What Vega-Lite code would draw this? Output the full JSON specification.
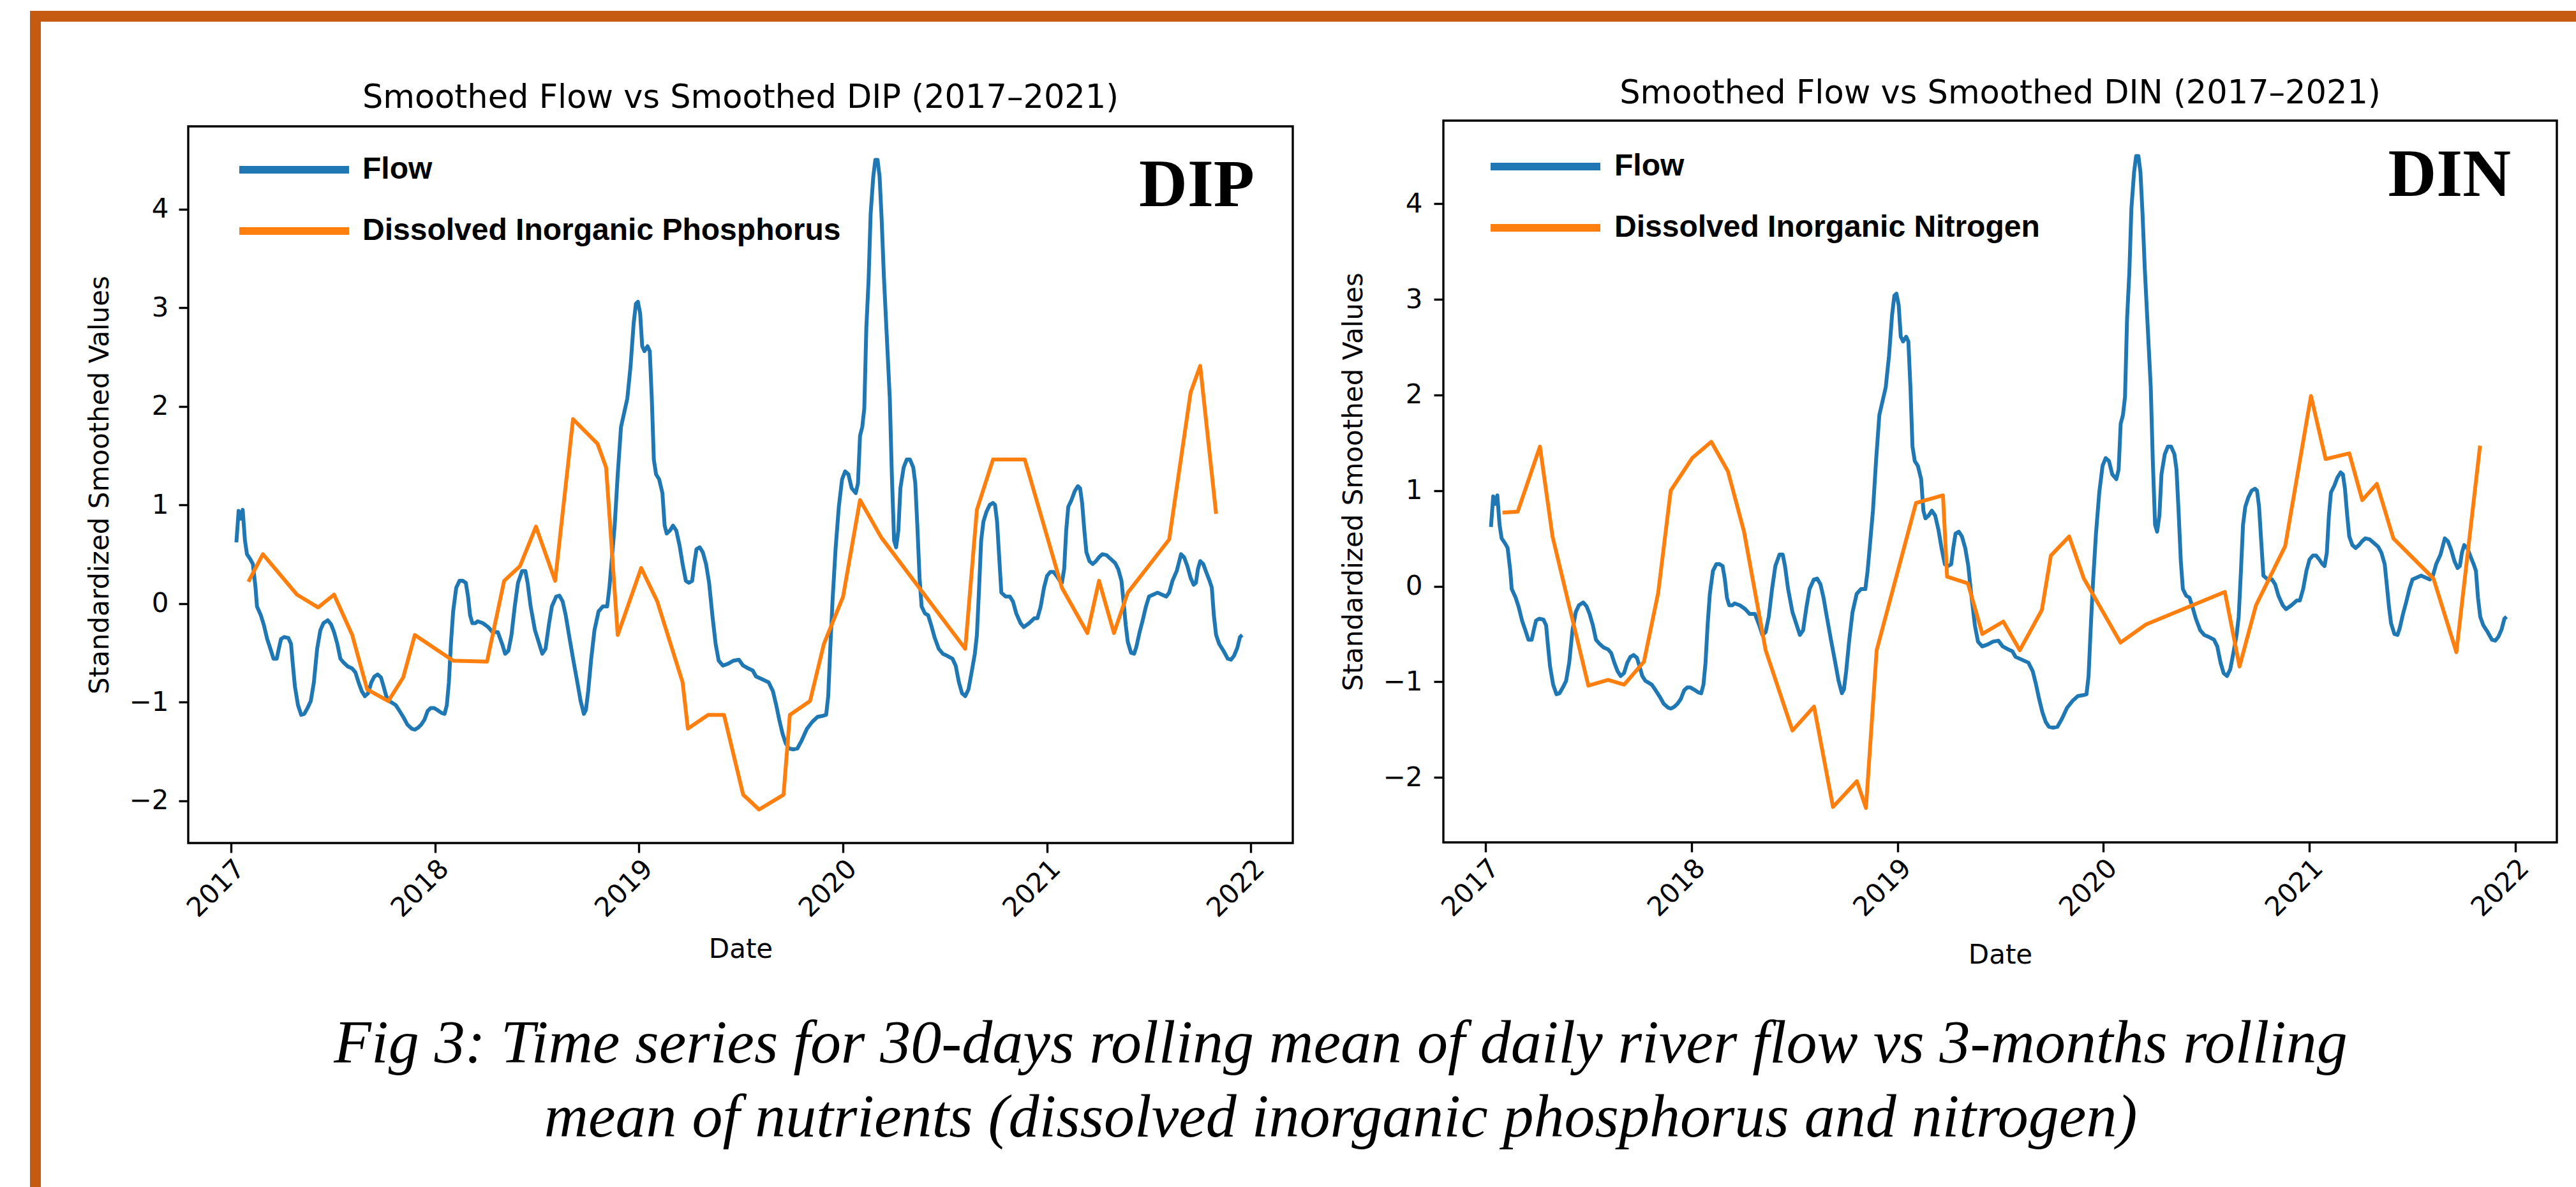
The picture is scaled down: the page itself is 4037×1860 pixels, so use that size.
{
"$schema": "https://vega.github.io/schema/vega-lite/v6.json",
"background": "white",
"padding": {"left": 47, "top": 17, "right": 0, "bottom": 0},
"autosize": {"type": "pad"},
"config": {
  "view": {"stroke": null},
  "font": "DejaVu Sans",
  "axis": {"labelFont": "DejaVu Sans", "labelFontSize": 42, "labelColor": "black", "titleFont": "DejaVu Sans", "titleFontSize": 42, "titleFontWeight": "normal", "titleColor": "black", "tickColor": "black", "tickWidth": 3.4, "tickSize": 15, "grid": false, "domain": false},
  "legend": {"orient": "none", "symbolType": "stroke", "symbolSize": 29584, "symbolStrokeWidth": 12, "labelFont": "Liberation Sans", "labelFontWeight": "bold", "labelFontSize": 48, "labelColor": "black", "clipHeight": 48, "rowPadding": 48, "padding": 0, "labelLimit": 2000},
  "title": {"font": "DejaVu Sans", "fontSize": 51, "fontWeight": "normal", "color": "black", "anchor": "middle"}
},
"datasets": {
  "flow": [
{"t":2017.026,"v":0.62},{"t":2017.037,"v":0.94},{"t":2017.047,"v":0.86},{"t":2017.057,"v":0.95},{"t":2017.068,"v":0.64},{"t":2017.078,"v":0.50},{"t":2017.094,"v":0.45},{"t":2017.107,"v":0.40},{"t":2017.120,"v":0.16},{"t":2017.127,"v":-0.03},{"t":2017.146,"v":-0.12},{"t":2017.161,"v":-0.22},{"t":2017.177,"v":-0.36},{"t":2017.193,"v":-0.46},{"t":2017.208,"v":-0.56},{"t":2017.224,"v":-0.56},{"t":2017.234,"v":-0.46},{"t":2017.245,"v":-0.36},{"t":2017.260,"v":-0.34},{"t":2017.281,"v":-0.35},{"t":2017.294,"v":-0.41},{"t":2017.302,"v":-0.60},{"t":2017.313,"v":-0.84},{"t":2017.328,"v":-1.03},{"t":2017.344,"v":-1.13},{"t":2017.359,"v":-1.12},{"t":2017.375,"v":-1.06},{"t":2017.391,"v":-0.99},{"t":2017.406,"v":-0.80},{"t":2017.422,"v":-0.46},{"t":2017.438,"v":-0.27},{"t":2017.453,"v":-0.20},{"t":2017.474,"v":-0.17},{"t":2017.490,"v":-0.21},{"t":2017.505,"v":-0.29},{"t":2017.521,"v":-0.41},{"t":2017.536,"v":-0.56},{"t":2017.552,"v":-0.60},{"t":2017.573,"v":-0.64},{"t":2017.594,"v":-0.66},{"t":2017.610,"v":-0.70},{"t":2017.625,"v":-0.80},{"t":2017.641,"v":-0.89},{"t":2017.656,"v":-0.94},{"t":2017.672,"v":-0.91},{"t":2017.688,"v":-0.80},{"t":2017.703,"v":-0.74},{"t":2017.719,"v":-0.72},{"t":2017.735,"v":-0.75},{"t":2017.745,"v":-0.82},{"t":2017.761,"v":-0.94},{"t":2017.776,"v":-0.99},{"t":2017.792,"v":-1.01},{"t":2017.807,"v":-1.03},{"t":2017.823,"v":-1.08},{"t":2017.844,"v":-1.15},{"t":2017.865,"v":-1.23},{"t":2017.886,"v":-1.27},{"t":2017.901,"v":-1.28},{"t":2017.917,"v":-1.26},{"t":2017.932,"v":-1.23},{"t":2017.948,"v":-1.18},{"t":2017.964,"v":-1.09},{"t":2017.979,"v":-1.06},{"t":2017.995,"v":-1.06},{"t":2018.011,"v":-1.08},{"t":2018.032,"v":-1.11},{"t":2018.047,"v":-1.12},{"t":2018.058,"v":-1.03},{"t":2018.068,"v":-0.80},{"t":2018.078,"v":-0.41},{"t":2018.089,"v":-0.08},{"t":2018.104,"v":0.16},{"t":2018.120,"v":0.23},{"t":2018.136,"v":0.23},{"t":2018.151,"v":0.21},{"t":2018.162,"v":0.07},{"t":2018.172,"v":-0.12},{"t":2018.183,"v":-0.20},{"t":2018.198,"v":-0.20},{"t":2018.209,"v":-0.18},{"t":2018.235,"v":-0.20},{"t":2018.261,"v":-0.24},{"t":2018.282,"v":-0.29},{"t":2018.308,"v":-0.29},{"t":2018.329,"v":-0.41},{"t":2018.344,"v":-0.51},{"t":2018.360,"v":-0.48},{"t":2018.375,"v":-0.32},{"t":2018.391,"v":-0.03},{"t":2018.407,"v":0.21},{"t":2018.427,"v":0.33},{"t":2018.443,"v":0.33},{"t":2018.454,"v":0.21},{"t":2018.469,"v":-0.03},{"t":2018.490,"v":-0.27},{"t":2018.511,"v":-0.41},{"t":2018.526,"v":-0.51},{"t":2018.542,"v":-0.46},{"t":2018.558,"v":-0.22},{"t":2018.573,"v":-0.03},{"t":2018.594,"v":0.07},{"t":2018.610,"v":0.08},{"t":2018.626,"v":0.02},{"t":2018.641,"v":-0.12},{"t":2018.657,"v":-0.32},{"t":2018.677,"v":-0.56},{"t":2018.698,"v":-0.80},{"t":2018.714,"v":-0.99},{"t":2018.730,"v":-1.12},{"t":2018.740,"v":-1.08},{"t":2018.751,"v":-0.89},{"t":2018.766,"v":-0.56},{"t":2018.782,"v":-0.27},{"t":2018.802,"v":-0.08},{"t":2018.823,"v":-0.03},{"t":2018.844,"v":-0.03},{"t":2018.855,"v":0.16},{"t":2018.865,"v":0.40},{"t":2018.881,"v":0.79},{"t":2018.896,"v":1.31},{"t":2018.912,"v":1.79},{"t":2018.927,"v":1.93},{"t":2018.943,"v":2.08},{"t":2018.959,"v":2.41},{"t":2018.974,"v":2.84},{"t":2018.985,"v":3.04},{"t":2018.995,"v":3.06},{"t":2019.006,"v":2.94},{"t":2019.016,"v":2.61},{"t":2019.027,"v":2.56},{"t":2019.042,"v":2.61},{"t":2019.053,"v":2.56},{"t":2019.063,"v":2.08},{"t":2019.073,"v":1.46},{"t":2019.084,"v":1.31},{"t":2019.099,"v":1.26},{"t":2019.115,"v":1.12},{"t":2019.126,"v":0.79},{"t":2019.136,"v":0.71},{"t":2019.152,"v":0.74},{"t":2019.167,"v":0.79},{"t":2019.183,"v":0.74},{"t":2019.199,"v":0.59},{"t":2019.214,"v":0.40},{"t":2019.230,"v":0.23},{"t":2019.245,"v":0.21},{"t":2019.261,"v":0.23},{"t":2019.271,"v":0.40},{"t":2019.282,"v":0.55},{"t":2019.298,"v":0.57},{"t":2019.313,"v":0.52},{"t":2019.329,"v":0.40},{"t":2019.344,"v":0.21},{"t":2019.360,"v":-0.12},{"t":2019.376,"v":-0.41},{"t":2019.391,"v":-0.58},{"t":2019.412,"v":-0.63},{"t":2019.438,"v":-0.61},{"t":2019.464,"v":-0.58},{"t":2019.490,"v":-0.57},{"t":2019.511,"v":-0.63},{"t":2019.537,"v":-0.66},{"t":2019.558,"v":-0.68},{"t":2019.574,"v":-0.74},{"t":2019.605,"v":-0.77},{"t":2019.636,"v":-0.80},{"t":2019.657,"v":-0.89},{"t":2019.673,"v":-1.03},{"t":2019.688,"v":-1.18},{"t":2019.704,"v":-1.32},{"t":2019.720,"v":-1.42},{"t":2019.735,"v":-1.47},{"t":2019.756,"v":-1.48},{"t":2019.777,"v":-1.47},{"t":2019.798,"v":-1.39},{"t":2019.824,"v":-1.27},{"t":2019.850,"v":-1.20},{"t":2019.876,"v":-1.15},{"t":2019.902,"v":-1.14},{"t":2019.918,"v":-1.13},{"t":2019.928,"v":-0.94},{"t":2019.938,"v":-0.46},{"t":2019.949,"v":0.02},{"t":2019.964,"v":0.55},{"t":2019.980,"v":0.98},{"t":2019.996,"v":1.26},{"t":2020.011,"v":1.34},{"t":2020.027,"v":1.31},{"t":2020.043,"v":1.17},{"t":2020.063,"v":1.12},{"t":2020.074,"v":1.22},{"t":2020.084,"v":1.70},{"t":2020.095,"v":1.79},{"t":2020.105,"v":1.98},{"t":2020.115,"v":2.80},{"t":2020.126,"v":3.28},{"t":2020.136,"v":3.95},{"t":2020.149,"v":4.33},{"t":2020.159,"v":4.50},{"t":2020.170,"v":4.50},{"t":2020.180,"v":4.33},{"t":2020.190,"v":3.90},{"t":2020.201,"v":3.32},{"t":2020.211,"v":2.89},{"t":2020.220,"v":2.51},{"t":2020.230,"v":2.08},{"t":2020.240,"v":1.31},{"t":2020.251,"v":0.64},{"t":2020.261,"v":0.57},{"t":2020.272,"v":0.74},{"t":2020.282,"v":1.17},{"t":2020.298,"v":1.38},{"t":2020.313,"v":1.46},{"t":2020.329,"v":1.46},{"t":2020.345,"v":1.38},{"t":2020.355,"v":1.22},{"t":2020.365,"v":0.79},{"t":2020.376,"v":0.26},{"t":2020.386,"v":-0.03},{"t":2020.402,"v":-0.10},{"t":2020.418,"v":-0.12},{"t":2020.433,"v":-0.22},{"t":2020.449,"v":-0.34},{"t":2020.470,"v":-0.46},{"t":2020.490,"v":-0.51},{"t":2020.511,"v":-0.53},{"t":2020.537,"v":-0.56},{"t":2020.553,"v":-0.63},{"t":2020.569,"v":-0.80},{"t":2020.584,"v":-0.91},{"t":2020.600,"v":-0.94},{"t":2020.616,"v":-0.87},{"t":2020.631,"v":-0.70},{"t":2020.647,"v":-0.51},{"t":2020.657,"v":-0.32},{"t":2020.668,"v":0.16},{"t":2020.678,"v":0.64},{"t":2020.689,"v":0.83},{"t":2020.704,"v":0.93},{"t":2020.720,"v":1.00},{"t":2020.736,"v":1.02},{"t":2020.746,"v":1.00},{"t":2020.756,"v":0.83},{"t":2020.767,"v":0.45},{"t":2020.777,"v":0.11},{"t":2020.798,"v":0.07},{"t":2020.819,"v":0.07},{"t":2020.834,"v":0.02},{"t":2020.850,"v":-0.10},{"t":2020.871,"v":-0.20},{"t":2020.887,"v":-0.24},{"t":2020.913,"v":-0.20},{"t":2020.939,"v":-0.15},{"t":2020.954,"v":-0.15},{"t":2020.970,"v":-0.03},{"t":2020.986,"v":0.16},{"t":2021.001,"v":0.28},{"t":2021.017,"v":0.32},{"t":2021.033,"v":0.32},{"t":2021.048,"v":0.28},{"t":2021.064,"v":0.23},{"t":2021.074,"v":0.21},{"t":2021.085,"v":0.35},{"t":2021.095,"v":0.74},{"t":2021.105,"v":0.98},{"t":2021.121,"v":1.05},{"t":2021.137,"v":1.14},{"t":2021.152,"v":1.19},{"t":2021.163,"v":1.17},{"t":2021.173,"v":1.02},{"t":2021.184,"v":0.74},{"t":2021.194,"v":0.52},{"t":2021.209,"v":0.43},{"t":2021.225,"v":0.40},{"t":2021.241,"v":0.43},{"t":2021.256,"v":0.47},{"t":2021.272,"v":0.50},{"t":2021.293,"v":0.49},{"t":2021.314,"v":0.45},{"t":2021.335,"v":0.41},{"t":2021.350,"v":0.35},{"t":2021.366,"v":0.23},{"t":2021.376,"v":0.02},{"t":2021.387,"v":-0.22},{"t":2021.397,"v":-0.39},{"t":2021.413,"v":-0.50},{"t":2021.428,"v":-0.51},{"t":2021.439,"v":-0.44},{"t":2021.455,"v":-0.29},{"t":2021.470,"v":-0.17},{"t":2021.486,"v":-0.03},{"t":2021.501,"v":0.07},{"t":2021.522,"v":0.09},{"t":2021.543,"v":0.11},{"t":2021.564,"v":0.09},{"t":2021.585,"v":0.07},{"t":2021.600,"v":0.11},{"t":2021.616,"v":0.23},{"t":2021.637,"v":0.33},{"t":2021.658,"v":0.50},{"t":2021.673,"v":0.47},{"t":2021.689,"v":0.38},{"t":2021.705,"v":0.26},{"t":2021.720,"v":0.19},{"t":2021.731,"v":0.21},{"t":2021.741,"v":0.35},{"t":2021.752,"v":0.43},{"t":2021.767,"v":0.40},{"t":2021.783,"v":0.31},{"t":2021.798,"v":0.23},{"t":2021.809,"v":0.16},{"t":2021.819,"v":-0.12},{"t":2021.830,"v":-0.32},{"t":2021.845,"v":-0.41},{"t":2021.866,"v":-0.48},{"t":2021.887,"v":-0.56},{"t":2021.903,"v":-0.57},{"t":2021.918,"v":-0.53},{"t":2021.934,"v":-0.45},{"t":2021.947,"v":-0.34},{"t":2021.958,"v":-0.32}
  ],
  "dip": [
{"t":2017.085,"v":0.22},{"t":2017.156,"v":0.50},{"t":2017.323,"v":0.09},{"t":2017.427,"v":-0.04},{"t":2017.505,"v":0.09},{"t":2017.594,"v":-0.32},{"t":2017.667,"v":-0.87},{"t":2017.771,"v":-0.99},{"t":2017.844,"v":-0.75},{"t":2017.901,"v":-0.32},{"t":2018.089,"v":-0.58},{"t":2018.255,"v":-0.59},{"t":2018.339,"v":0.23},{"t":2018.417,"v":0.38},{"t":2018.495,"v":0.78},{"t":2018.589,"v":0.23},{"t":2018.677,"v":1.87},{"t":2018.797,"v":1.62},{"t":2018.839,"v":1.38},{"t":2018.896,"v":-0.32},{"t":2019.011,"v":0.36},{"t":2019.090,"v":0.02},{"t":2019.214,"v":-0.80},{"t":2019.240,"v":-1.27},{"t":2019.339,"v":-1.13},{"t":2019.417,"v":-1.13},{"t":2019.511,"v":-1.94},{"t":2019.589,"v":-2.09},{"t":2019.709,"v":-1.94},{"t":2019.740,"v":-1.13},{"t":2019.839,"v":-0.99},{"t":2019.907,"v":-0.41},{"t":2020.001,"v":0.07},{"t":2020.084,"v":1.05},{"t":2020.188,"v":0.67},{"t":2020.600,"v":-0.46},{"t":2020.657,"v":0.95},{"t":2020.736,"v":1.46},{"t":2020.892,"v":1.46},{"t":2021.074,"v":0.16},{"t":2021.199,"v":-0.30},{"t":2021.256,"v":0.23},{"t":2021.329,"v":-0.30},{"t":2021.397,"v":0.11},{"t":2021.600,"v":0.65},{"t":2021.705,"v":2.14},{"t":2021.752,"v":2.41},{"t":2021.830,"v":0.91}
  ],
  "din": [
{"t":2017.082,"v":0.77},{"t":2017.156,"v":0.78},{"t":2017.264,"v":1.46},{"t":2017.325,"v":0.52},{"t":2017.499,"v":-1.04},{"t":2017.595,"v":-0.98},{"t":2017.673,"v":-1.03},{"t":2017.769,"v":-0.79},{"t":2017.838,"v":-0.07},{"t":2017.899,"v":1.00},{"t":2018.003,"v":1.34},{"t":2018.096,"v":1.51},{"t":2018.177,"v":1.20},{"t":2018.255,"v":0.57},{"t":2018.360,"v":-0.67},{"t":2018.490,"v":-1.51},{"t":2018.595,"v":-1.26},{"t":2018.687,"v":-2.31},{"t":2018.803,"v":-2.04},{"t":2018.847,"v":-2.32},{"t":2018.899,"v":-0.67},{"t":2019.090,"v":0.87},{"t":2019.221,"v":0.95},{"t":2019.241,"v":0.10},{"t":2019.342,"v":0.03},{"t":2019.412,"v":-0.50},{"t":2019.514,"v":-0.37},{"t":2019.594,"v":-0.67},{"t":2019.701,"v":-0.25},{"t":2019.745,"v":0.32},{"t":2019.834,"v":0.52},{"t":2019.905,"v":0.08},{"t":2020.083,"v":-0.59},{"t":2020.207,"v":-0.40},{"t":2020.590,"v":-0.06},{"t":2020.661,"v":-0.84},{"t":2020.741,"v":-0.20},{"t":2020.883,"v":0.42},{"t":2021.008,"v":1.99},{"t":2021.079,"v":1.33},{"t":2021.194,"v":1.39},{"t":2021.257,"v":0.90},{"t":2021.328,"v":1.07},{"t":2021.408,"v":0.50},{"t":2021.603,"v":0.08},{"t":2021.714,"v":-0.69},{"t":2021.829,"v":1.47}
  ]
},
"spacing": 0,
"resolve": {"scale": {"color": "independent"}, "legend": {"color": "independent"}},
"vconcat": [
  {"width": 3974, "height": 1, "data": {"values": []}, "mark": {"type": "point", "opacity": 0}, "view": {"stroke": "#C55A11", "strokeWidth": 16}},
  {"spacing": 69,
   "resolve": {"scale": {"color": "independent"}, "legend": {"color": "independent"}},
   "hconcat": [
    {"width": 1, "height": 1811, "data": {"values": []}, "mark": {"type": "point", "opacity": 0}, "view": {"stroke": "#C55A11", "strokeWidth": 16}},
    {"spacing": 76,
     "resolve": {"scale": {"color": "independent"}, "legend": {"color": "independent"}},
     "vconcat": [
      {"width": 1, "height": 1, "data": {"values": []}, "mark": {"type": "point", "opacity": 0}},
      {"spacing": 70,
       "resolve": {"scale": {"color": "independent"}, "legend": {"color": "independent"}},
       "title": {"text": ["Fig 3: Time series for 30-days rolling mean of daily river flow vs 3-months rolling", "mean of nutrients (dissolved inorganic phosphorus and nitrogen)"], "orient": "bottom", "anchor": "middle", "font": "Liberation Serif", "fontStyle": "italic", "fontWeight": "normal", "fontSize": 96, "lineHeight": 116, "offset": 70, "dx": 30, "color": "black"},
       "hconcat": [
        {"spacing": 8, "bounds": "flush",
         "resolve": {"scale": {"color": "independent"}, "legend": {"color": "independent"}},
         "vconcat": [
          {"width": 1, "height": 1, "data": {"values": []}, "mark": {"type": "point", "opacity": 0}},
          {"width": 1731, "height": 1123,
           "view": {"stroke": "black", "strokeWidth": 3.4},
           "title": {"text": "Smoothed Flow vs Smoothed DIP (2017–2021)", "offset": 18},
           "layer": [
            {"data": {"name": "flow"}, "mark": {"type": "line", "strokeWidth": 6, "strokeJoin": "round"},
             "encoding": {
               "x": {"field": "t", "type": "quantitative", "scale": {"domain": [2016.79, 2022.206], "nice": false, "zero": false}, "axis": {"title": "Date", "values": [2017, 2018, 2019, 2020, 2021, 2022], "format": "d", "labelAngle": -45, "labelAlign": "right", "labelBaseline": "top", "labelPadding": 4, "titlePadding": 23}},
               "y": {"field": "v", "type": "quantitative", "scale": {"domain": [-2.43, 4.84], "nice": false, "zero": false}, "axis": {"title": "Standardized Smoothed Values", "values": [-2, -1, 0, 1, 2, 3, 4], "format": "d", "labelPadding": 16, "titlePadding": 24}},
               "color": {"datum": "Flow", "type": "nominal", "scale": {"domain": ["Flow", "Dissolved Inorganic Phosphorus"], "range": ["#1f77b4", "#ff7f0e"]}, "legend": {"title": null, "legendX": 74, "legendY": 44, "labelOffset": 15, "encode": {"symbols": {"update": {"stroke": {"signal": "datum.value === 'Flow' ? '#4472C4' : '#ED7D31'"}}}}}}
             }},
            {"data": {"name": "dip"}, "mark": {"type": "line", "strokeWidth": 6, "strokeJoin": "round"},
             "encoding": {"x": {"field": "t", "type": "quantitative"}, "y": {"field": "v", "type": "quantitative"}, "color": {"datum": "Dissolved Inorganic Phosphorus", "type": "nominal"}}},
            {"data": {"values": [{"t": 2022.018, "v": 4.03, "label": "DIP"}]}, "mark": {"type": "text", "font": "Liberation Serif", "fontWeight": "bold", "fontSize": 105, "align": "right", "baseline": "alphabetic", "color": "black"},
             "encoding": {"x": {"field": "t", "type": "quantitative"}, "y": {"field": "v", "type": "quantitative"}, "text": {"field": "label"}}}
           ]}
         ]},
        {"width": 1745, "height": 1131,
         "view": {"stroke": "black", "strokeWidth": 3.4},
         "title": {"text": "Smoothed Flow vs Smoothed DIN (2017–2021)", "offset": 16},
         "layer": [
          {"data": {"name": "flow"}, "mark": {"type": "line", "strokeWidth": 6, "strokeJoin": "round"},
           "encoding": {
             "x": {"field": "t", "type": "quantitative", "scale": {"domain": [2016.795, 2022.202], "nice": false, "zero": false}, "axis": {"title": "Date", "values": [2017, 2018, 2019, 2020, 2021, 2022], "format": "d", "labelAngle": -45, "labelAlign": "right", "labelBaseline": "top", "labelPadding": 4, "titlePadding": 33}},
             "y": {"field": "v", "type": "quantitative", "scale": {"domain": [-2.68, 4.87], "nice": false, "zero": false}, "axis": {"title": "Standardized Smoothed Values", "values": [-2, -1, 0, 1, 2, 3, 4], "format": "d", "labelPadding": 18, "titlePadding": 24}},
             "color": {"datum": "Flow", "type": "nominal", "scale": {"domain": ["Flow", "Dissolved Inorganic Nitrogen"], "range": ["#1f77b4", "#ff7f0e"]}, "legend": {"title": null, "legendX": 68, "legendY": 48, "labelOffset": 16, "encode": {"symbols": {"update": {"stroke": {"signal": "datum.value === 'Flow' ? '#4472C4' : '#ED7D31'"}}}}}}
           }},
          {"data": {"name": "din"}, "mark": {"type": "line", "strokeWidth": 6, "strokeJoin": "round"},
           "encoding": {"x": {"field": "t", "type": "quantitative"}, "y": {"field": "v", "type": "quantitative"}, "color": {"datum": "Dissolved Inorganic Nitrogen", "type": "nominal"}}},
          {"data": {"values": [{"t": 2021.979, "v": 4.08, "label": "DIN"}]}, "mark": {"type": "text", "font": "Liberation Serif", "fontWeight": "bold", "fontSize": 105, "align": "right", "baseline": "alphabetic", "color": "black"},
           "encoding": {"x": {"field": "t", "type": "quantitative"}, "y": {"field": "v", "type": "quantitative"}, "text": {"field": "label"}}}
         ]}
       ]}
    ]}
  ]}
]
}
